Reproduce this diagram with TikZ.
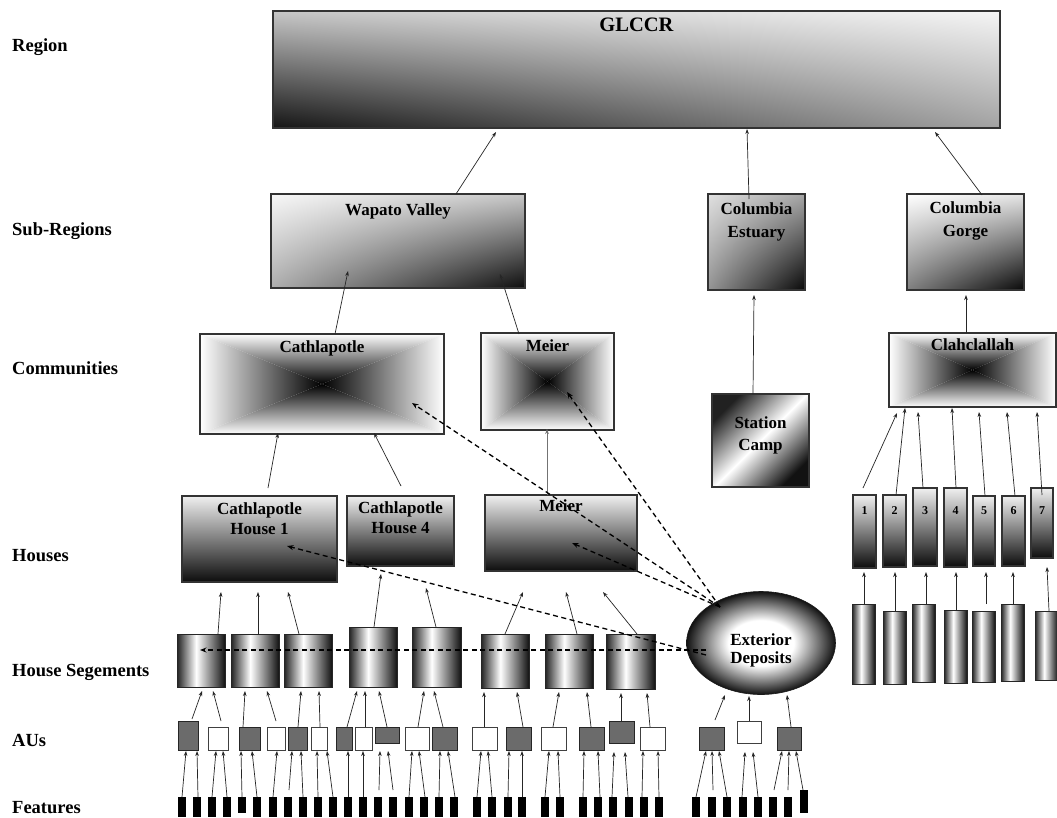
\documentclass[tikz,border=0pt]{standalone}
\usepackage{fontspec}
\setmainfont{Liberation Serif}
\usetikzlibrary{arrows.meta,backgrounds,shapes.geometric,shadings}
\definecolor{cdark}{gray}{0.13}
\definecolor{cdarker}{gray}{0.07}
\definecolor{cwhite}{gray}{1}
\pgfdeclarehorizontalshading{cylshade}{100bp}{color(0bp)=(cdark); color(25bp)=(cdark); color(45bp)=(cwhite); color(75bp)=(cdarker); color(100bp)=(cdarker)}
\pgfdeclarehorizontalshading{stcshade}{100bp}{color(0bp)=(cdark); color(25bp)=(cdark); color(50bp)=(cwhite); color(75bp)=(cdarker); color(100bp)=(cdarker)}
\pgfdeclareradialshading{eggshade}{\pgfpoint{0bp}{0bp}}{color(0bp)=(cwhite); color(11bp)=(cwhite); color(25bp)=(cdarker); color(50bp)=(cdarker)}
\newcommand\cnx[5][arr]{\draw[#1] ([shift={(#3)}]#2.center) -- ([shift={(#5)}]#4.center);}
\newcommand\pyr[1]{%
\begin{pgfonlayer}{background}
\begin{scope}
\clip (#1.north west) -- (#1.north east) -- (#1.center) -- cycle;
\shade[top color=white, bottom color=black] (#1.north west) rectangle (#1.east);
\end{scope}
\begin{scope}
\clip (#1.south west) -- (#1.south east) -- (#1.center) -- cycle;
\shade[top color=black, bottom color=white] (#1.west) rectangle (#1.south east);
\end{scope}
\begin{scope}
\clip (#1.north west) -- (#1.south west) -- (#1.center) -- cycle;
\shade[left color=white, right color=black] (#1.north west) rectangle (#1.south);
\end{scope}
\begin{scope}
\clip (#1.north east) -- (#1.south east) -- (#1.center) -- cycle;
\shade[left color=black, right color=white] (#1.north) rectangle (#1.south east);
\end{scope}
\end{pgfonlayer}}
\begin{document}
\begin{tikzpicture}[x=1pt,y=-1pt,
  bx/.style={rectangle, draw=black!80, line width=1.1pt, inner sep=0pt, outer sep=0pt,
     align=center, font=\bfseries\fontsize{17}{21}\selectfont},
  vgrad/.style={top color=black!6, bottom color=black!95},
  cyl/.style={rectangle, draw=black!85, line width=0.9pt, inner sep=0pt, outer sep=0pt, shading=cylshade},
  aug/.style={rectangle, draw=black!85, line width=0.9pt, fill=black!58, inner sep=0pt, outer sep=0pt},
  auw/.style={rectangle, draw=black!75, line width=0.9pt, fill=white, inner sep=0pt, outer sep=0pt},
  feat/.style={rectangle, fill=black, draw=none, inner sep=0pt, outer sep=0pt, minimum width=8pt},
  lvl/.style={anchor=base west, inner sep=0pt, font=\bfseries\fontsize{18.5}{22}\selectfont},
  arr/.style={draw=black!85, line width=0.7pt, -{Stealth[length=5pt,width=3.6pt]}},
  darr/.style={draw=black, line width=1.3pt, dash pattern=on 5pt off 3.5pt, -{Stealth[length=6.5pt,width=5pt]}}
]
\useasboundingbox (0,0) rectangle (1057,817);
\begin{pgfonlayer}{background}
\fill[white] (0,0) rectangle (1057,817);
\end{pgfonlayer}

% level labels
\node[lvl] (lRegion) at (12,51) {Region};
\node[lvl] (lSub) at (12,235) {Sub-Regions};
\node[lvl] (lCom) at (12,374) {Communities};
\node[lvl] (lHouse) at (12,561) {Houses};
\node[lvl] (lSeg) at (12,676) {House Segements};
\node[lvl] (lAU) at (12,746) {AUs};
\node[lvl] (lFeat) at (12,813) {Features};

% region
\node[bx, upper left=black!22, upper right=black!4, lower left=black!92, lower right=black!36,
  minimum width=727pt, text height=20pt, text depth=97pt,
  font=\bfseries\fontsize{20.5}{24}\selectfont] (g) at (636.5,69.5) {GLCCR};

% sub-regions
\node[bx, upper left=black!3, upper right=black!22, lower left=black!32, lower right=black!95,
  minimum width=254pt, text height=21pt, text depth=73pt] (wap) at (398,241) {Wapato Valley};
\node[bx, upper left=black!12, upper right=black!35, lower left=black!42, lower right=black!97,
  minimum width=97pt, text height=43pt, text depth=53pt,
  font=\bfseries\fontsize{17}{23}\selectfont] (est) at (756.5,242) {Columbia\\Estuary};
\node[bx, upper left=white, upper right=black!10, lower left=black!50, lower right=black!97,
  minimum width=117pt, text height=42pt, text depth=54pt,
  font=\bfseries\fontsize{17}{23}\selectfont] (gor) at (965.5,242) {Columbia\\Gorge};

% communities
\node[bx, minimum width=244pt, text height=18pt, text depth=82pt] (cath) at (322,384) {Cathlapotle};
\node[bx, minimum width=133pt, text height=18pt, text depth=79pt] (meic) at (547.5,381.5) {Meier};
\node[bx, minimum width=167pt, text height=17pt, text depth=57pt] (clah) at (972.5,370) {Clahclallah};
\pyr{cath}
\pyr{meic}
\pyr{clah}
\node[bx, shading=stcshade, shading angle=-45, minimum width=97pt, text height=56pt, text depth=37pt,
  font=\bfseries\fontsize{17}{22}\selectfont] (stc) at (760.5,440.5) {Station\\Camp};

% houses
\node[bx, vgrad, minimum width=155pt, text height=38pt, text depth=48pt,
  font=\bfseries\fontsize{17}{20}\selectfont] (h1) at (259.5,539) {Cathlapotle\\House 1};
\node[bx, vgrad, minimum width=107pt, text height=37pt, text depth=33pt,
  font=\bfseries\fontsize{17}{20}\selectfont] (h4) at (400.5,531) {Cathlapotle\\House 4};
\node[bx, vgrad, minimum width=152pt, text height=16pt, text depth=60pt] (meih) at (561,533) {Meier};

% exterior deposits
\node[ellipse, draw=black!90, line width=0.6pt, shading=eggshade, inner sep=0pt, outer sep=0pt,
  minimum width=149pt, minimum height=103pt, text height=40pt, text depth=0pt, align=center,
  font=\bfseries\fontsize{17}{18}\selectfont] (ext) at (761,643) {Exterior\\Deposits};

% house segments
\node[cyl, minimum width=48pt, minimum height=53pt] (seg1) at (201,660.5) {};
\node[cyl, minimum width=48pt, minimum height=53pt] (seg2) at (255,660.5) {};
\node[cyl, minimum width=48pt, minimum height=53pt] (seg3) at (308,660.5) {};
\node[cyl, minimum width=48pt, minimum height=60pt] (seg4) at (373,657) {};
\node[cyl, minimum width=49pt, minimum height=60pt] (seg5) at (436.5,657) {};
\node[cyl, minimum width=48pt, minimum height=54pt] (seg6) at (505,661) {};
\node[cyl, minimum width=48pt, minimum height=54pt] (seg7) at (569,661) {};
\node[cyl, minimum width=49pt, minimum height=55pt] (seg8) at (630.5,661.5) {};

% AUs
\node[aug, minimum width=20pt, minimum height=29pt] (au1) at (188,735.5) {};
\node[auw, minimum width=20pt, minimum height=23pt] (au2) at (218,738.5) {};
\node[aug, minimum width=21pt, minimum height=23pt] (au3) at (249.5,738.5) {};
\node[auw, minimum width=18pt, minimum height=23pt] (au4) at (276,738.5) {};
\node[aug, minimum width=19pt, minimum height=23pt] (au5) at (297.5,738.5) {};
\node[auw, minimum width=16pt, minimum height=23pt] (au6) at (319,738.5) {};
\node[aug, minimum width=16pt, minimum height=23pt] (au7) at (344,738.5) {};
\node[auw, minimum width=17pt, minimum height=23pt] (au8) at (363.5,738.5) {};
\node[aug, minimum width=24pt, minimum height=16pt] (au9) at (387,735) {};
\node[auw, minimum width=24pt, minimum height=23pt] (au10) at (417,738.5) {};
\node[aug, minimum width=25pt, minimum height=23pt] (au11) at (444.5,738.5) {};
\node[auw, minimum width=25pt, minimum height=23pt] (au12) at (484.5,738.5) {};
\node[aug, minimum width=25pt, minimum height=23pt] (au13) at (518.5,738.5) {};
\node[auw, minimum width=25pt, minimum height=23pt] (au14) at (553.5,738.5) {};
\node[aug, minimum width=25pt, minimum height=23pt] (au15) at (591.5,738.5) {};
\node[aug, minimum width=25pt, minimum height=22pt] (au16) at (621.5,732) {};
\node[auw, minimum width=25pt, minimum height=23pt] (au17) at (652.5,738.5) {};
\node[aug, minimum width=25pt, minimum height=23pt] (au18) at (711.5,738.5) {};
\node[auw, minimum width=24pt, minimum height=22pt] (au19) at (749,732) {};
\node[aug, minimum width=24pt, minimum height=23pt] (au20) at (789,738.5) {};

% features
\foreach \i/\x in {1/182,2/197,3/212,4/227,6/257,7/273,8/288,9/303,10/318,11/333,12/348,13/363,
  14/378,15/393,16/409,17/424,18/439,19/454,20/477,21/492,22/508,23/522,24/545,25/560,26/583,
  27/598,28/613,29/629,30/644,31/659,32/696,33/712,34/727,35/743,36/758,37/773,38/788}
  {\node[feat, minimum height=20pt] (f\i) at (\x,807) {};}
\node[feat, minimum height=16pt] (f5) at (242,805) {};
\node[feat, minimum height=23pt] (f39) at (804,801.5) {};

% Clahclallah houses
\node[bx, vgrad, minimum width=23pt, text height=19pt, text depth=54pt, font=\bfseries\fontsize{12}{14}\selectfont] (b1) at (864.5,531.5) {1};
\node[bx, vgrad, minimum width=23pt, text height=19pt, text depth=53pt, font=\bfseries\fontsize{12}{14}\selectfont] (b2) at (894.5,531) {2};
\node[bx, vgrad, minimum width=24pt, text height=26pt, text depth=52pt, font=\bfseries\fontsize{12}{14}\selectfont] (b3) at (925,527) {3};
\node[bx, vgrad, minimum width=23pt, text height=26pt, text depth=53pt, font=\bfseries\fontsize{12}{14}\selectfont] (b4) at (955.5,527.5) {4};
\node[bx, vgrad, minimum width=22pt, text height=18pt, text depth=52pt, font=\bfseries\fontsize{12}{14}\selectfont] (b5) at (984,531) {5};
\node[bx, vgrad, minimum width=23pt, text height=18pt, text depth=52pt, font=\bfseries\fontsize{12}{14}\selectfont] (b6) at (1013.5,531) {6};
\node[bx, vgrad, minimum width=22pt, text height=26pt, text depth=44pt, font=\bfseries\fontsize{12}{14}\selectfont] (b7) at (1042,523) {7};

% Clahclallah segments
\node[cyl, minimum width=23pt, minimum height=80pt] (c1) at (863.5,644) {};
\node[cyl, minimum width=23pt, minimum height=73pt] (c2) at (894.5,647.5) {};
\node[cyl, minimum width=23pt, minimum height=78pt] (c3) at (923.5,643) {};
\node[cyl, minimum width=23pt, minimum height=73pt] (c4) at (955.5,646.5) {};
\node[cyl, minimum width=23pt, minimum height=71pt] (c5) at (983.5,646.5) {};
\node[cyl, minimum width=23pt, minimum height=77pt] (c6) at (1012.5,642.5) {};
\node[cyl, minimum width=23pt, minimum height=69pt] (c7) at (1046.5,645.5) {};

% ---------- connectors ----------
\cnx{wap}{58,-47}{g}{-140.5,62.5}
\cnx{est}{-7.5,-43}{g}{110.5,59.5}
\cnx{gor}{16.5,-47}{g}{298.5,62.5}
\cnx{cath}{13,-50}{wap}{-50,30}
\cnx{meic}{-28.5,-47.5}{wap}{102,33}
\cnx{stc}{-7.5,-46.5}{est}{-2.5,53}
\cnx{clah}{-6.5,-37}{gor}{0.5,53}
\cnx{h1}{8.5,-51}{cath}{-44,49}
\cnx{h4}{0.5,-45}{cath}{52,49}
\cnx[arr,draw=black!55]{meih}{-14,-38}{meic}{-0.5,47.5}

% segments to houses
\cnx{seg1}{17,-26.5}{h1}{-38.5,53}
\cnx{seg2}{3,-26.5}{h1}{-1.5,53}
\cnx{seg3}{-9,-26.5}{h1}{28.5,53}
\cnx{seg4}{1,-30}{h4}{-19.5,43}
\cnx{seg5}{-0.5,-30}{h4}{25.5,57}
\cnx{seg6}{0,-27}{meih}{-38,59}
\cnx{seg7}{8,-27}{meih}{5,59}
\cnx{seg8}{6.5,-27.5}{meih}{42,59}

% AUs to segments
\cnx{au1}{4,-16.5}{seg1}{1,30.5}
\cnx{au2}{3,-17.5}{seg1}{12,30.5}
\cnx{au3}{-6.5,-11.5}{seg2}{-10,30.5}
\cnx{au4}{0,-17.5}{seg2}{12,30.5}
\cnx{au5}{0.5,-11.5}{seg3}{-7,30.5}
\cnx{au6}{1,-11.5}{seg3}{11,30.5}
\cnx{au7}{3,-11.5}{seg4}{-16,34}
\cnx{au8}{1.5,-11.5}{seg4}{-8,34}
\cnx{au9}{0,-8}{seg4}{6,34}
\cnx{au10}{1,-11.5}{seg5}{-12.5,34}
\cnx{au11}{-1.5,-11.5}{seg5}{-2.5,34}
\cnx{au12}{-0.5,-11.5}{seg6}{-21,31}
\cnx{au13}{4.5,-11.5}{seg6}{12,31}
\cnx{au14}{-0.5,-11.5}{seg7}{-10,31}
\cnx{au15}{-0.5,-11.5}{seg7}{18,31}
\cnx{au16}{-0.5,-11}{seg8}{-9.5,31.5}
\cnx{au17}{-2.5,-11.5}{seg8}{16.5,31.5}
\cnx{au18}{3.5,-18.5}{ext}{-36,52}
\cnx{au19}{0,-11}{ext}{-12,53}
\cnx{au20}{2,-11.5}{ext}{26,52}

% features to AUs
\cnx{f1}{0,-10}{au1}{-2,15.5}
\cnx{f2}{1,-10}{au1}{9,15.5}
\cnx{f3}{0,-10}{au2}{-2,12.5}
\cnx{f4}{0,-10}{au2}{5,12.5}
\cnx{f5}{0,-8}{au3}{-8.5,12.5}
\cnx{f6}{0,-10}{au3}{2.5,12.5}
\cnx{f7}{0,-10}{au4}{1,12.5}
\cnx{f8}{1,-17}{au5}{-5.5,12.5}
\cnx{f9}{0,-10}{au5}{3.5,12.5}
\cnx{f10}{0,-10}{au6}{-2,12.5}
\cnx{f11}{0,-10}{au6}{8,12.5}
\cnx{f12}{0,-10}{au7}{4,12.5}
\cnx{f13}{0,-10}{au8}{-0.5,12.5}
\cnx{f14}{1,-17}{au9}{-7,16}
\cnx{f15}{0,-17}{au9}{1,16}
\cnx{f16}{0,-10}{au10}{-5,12.5}
\cnx{f17}{1,-10}{au10}{2,12.5}
\cnx{f18}{0,-10}{au11}{-4.5,12.5}
\cnx{f19}{1,-10}{au11}{3.5,12.5}
\cnx{f20}{0,-10}{au12}{-3.5,12.5}
\cnx{f21}{0,-10}{au12}{3.5,12.5}
\cnx{f22}{0,-10}{au13}{-9.5,12.5}
\cnx{f23}{0,-10}{au13}{3.5,12.5}
\cnx{f24}{0,-10}{au14}{-4.5,12.5}
\cnx{f25}{0,-10}{au14}{4.5,12.5}
\cnx{f26}{0,-10}{au15}{-7.5,12.5}
\cnx{f27}{2,-10}{au15}{6.5,12.5}
\cnx{f28}{-1,-10}{au16}{-7.5,20}
\cnx{f29}{-1,-10}{au16}{3.5,20}
\cnx{f30}{-2,-10}{au17}{-9.5,12.5}
\cnx{f31}{0,-10}{au17}{5.5,12.5}
\cnx{f32}{0,-10}{au18}{-5.5,12.5}
\cnx{f33}{1,-17}{au18}{0.5,12.5}
\cnx{f34}{0,-10}{au18}{7.5,12.5}
\cnx{f35}{-1,-10}{au19}{-4,20}
\cnx{f36}{0,-10}{au19}{4,20}
\cnx{f37}{1,-17}{au20}{-7,12.5}
\cnx{f38}{0,-17}{au20}{0,12.5}
\cnx{f39}{-1,-11.5}{au20}{7,12.5}

% Clahclallah column connectors
\cnx{c1}{0.5,-40}{b1}{-0.5,40.5}
\cnx{c2}{0.5,-36.5}{b2}{0.5,41}
\cnx{c3}{2.5,-39}{b3}{1,45}
\cnx{c4}{0.5,-36.5}{b4}{0.5,44.5}
\cnx{c5}{2.5,-42.5}{b5}{2,41}
\cnx{c6}{0.5,-38.5}{b6}{-0.5,41}
\cnx{c7}{2.5,-34.5}{b7}{5,44}
\cnx{b1}{-1.5,-43.5}{clah}{-75.5,43}
\cnx{b2}{1.5,-36}{clah}{-67.5,38}
\cnx{b3}{-2,-39}{clah}{-54.5,42}
\cnx{b4}{0.5,-39.5}{clah}{-20.5,38}
\cnx{b5}{1,-35}{clah}{6.5,42}
\cnx{b6}{1.5,-35}{clah}{34.5,42}
\cnx{b7}{0,-28}{clah}{64.5,42}

% dashed links from Exterior Deposits
\cnx[darr]{ext}{-41,-36}{cath}{90,19}
\cnx[darr]{ext}{-41,-36}{meic}{19.5,10.5}
\cnx[darr]{ext}{-41,-36}{meih}{11,10}
\cnx[darr]{ext}{-55,12}{h1}{27.5,7}
\cnx[darr]{ext}{-55,7}{seg1}{-1,-10.5}
\end{tikzpicture}
\end{document}
